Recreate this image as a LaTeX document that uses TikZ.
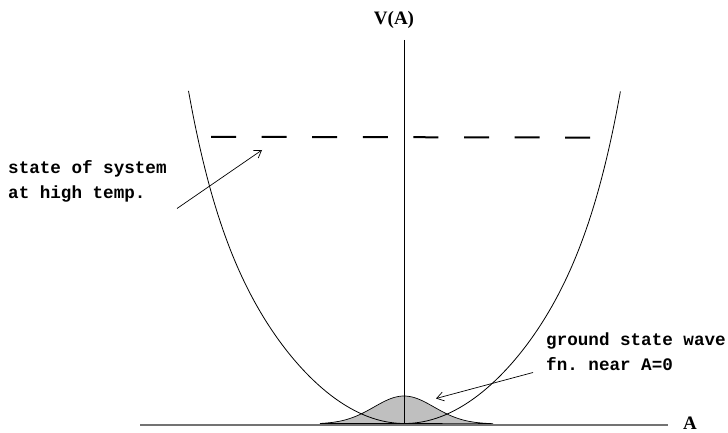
\documentclass[tikz,border=0pt]{standalone}
\usepackage{fontspec}
\setmainfont{Liberation Serif}
\setmonofont{Liberation Mono}
\usetikzlibrary{arrows.meta}
\begin{document}
\begin{tikzpicture}[x=1pt,y=-1pt,
  curve/.style={line width=0.8pt,black},
  axisline/.style={line width=0.8pt,black},
  baseaxis/.style={line width=1.4pt,black!55},
  pointer/.style={line width=0.7pt,-{Straight Barb[length=7pt,width=9pt,line width=0.7pt]}},
  monolabel/.style={font=\fontsize{17.6}{24.5}\selectfont\ttfamily\bfseries,inner sep=0pt,anchor=base west,align=left},
  axislabel/.style={font=\fontsize{19}{22}\selectfont\bfseries,inner sep=0pt,anchor=base}
]
\useasboundingbox (0,0) rectangle (728,433);
% wave function
\draw[line width=0.7pt,fill=black!25] plot[domain=320:493,samples=80,smooth] (\x,{424-28*exp(-(\x-404)^2/1800)}) -- cycle;
% axes
\coordinate (vtop) at (404,40);
\coordinate (vbot) at (404,425);
\draw[axisline] (vtop) -- (vbot);
\coordinate (hl) at (140,425);
\coordinate (hr) at (668,425);
\draw[baseaxis] (hl) -- (hr);
\node[axislabel] (vlab) at (394,25) {V(A)};
\node[axislabel,anchor=base west] (alab) at (683,429) {A};
% potential
\draw[curve] plot[domain=-1:1,samples=121,smooth] ({404.5+216*\x},{423.5-242.6*\x*\x-90*(\x)^8});
% thermal state
\coordinate (dl) at (211,136.8);
\coordinate (dr) at (592,137.6);
\draw[line width=2pt,dash pattern=on 25pt off 25.6pt] (dl) -- (dr);
% labels
\node[monolabel] (hot) at (8,198) {state of system\\at high temp.};
\node[monolabel] (gnd) at (546,370) {ground state wave\\fn. near A=0};
\coordinate (a1s) at (177,208.5);
\coordinate (a1e) at (262,150);
\draw[pointer] (a1s) -- (a1e);
\coordinate (a2s) at (533,372.5);
\coordinate (a2e) at (436,398.5);
\draw[pointer] (a2s) -- (a2e);
\end{tikzpicture}
\end{document}
